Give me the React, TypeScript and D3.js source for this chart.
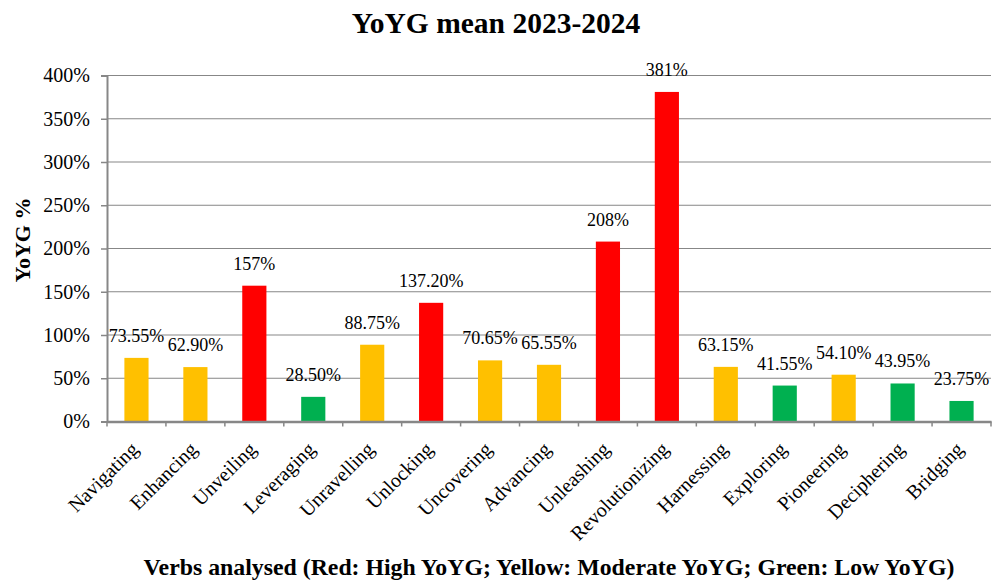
import React, { useRef, useEffect } from "react";
import * as d3 from "d3";

const verbs = [
    "Navigating", "Enhancing", "Unveiling", "Leveraging", "Unravelling",
    "Unlocking", "Uncovering", "Advancing", "Unleashing", "Revolutionizing",
    "Harnessing", "Exploring", "Pioneering", "Deciphering", "Bridging",
];
const yoyg = [73.55, 62.9, 157, 28.5, 88.75, 137.2, 70.65, 65.55, 208, 381, 63.15, 41.55, 54.1, 43.95, 23.75];
const valueLabels = [
    "73.55%", "62.90%", "157%", "28.50%", "88.75%", "137.20%", "70.65%", "65.55%",
    "208%", "381%", "63.15%", "41.55%", "54.10%", "43.95%", "23.75%",
];
// H = high, M = moderate, L = low
const level = ["M", "M", "H", "L", "M", "H", "M", "M", "H", "H", "M", "L", "M", "L", "L"];
const yTicks = [0, 50, 100, 150, 200, 250, 300, 350, 400];

const levelColor: Record<string, string> = { H: "#FF0000", M: "#FFC000", L: "#00B050" };
const font = "Liberation Serif, Times New Roman, serif";

export default function App() {
    const ref = useRef<SVGSVGElement | null>(null);

    useEffect(() => {
        const width = 992;
        const height = 582;
        const m = { top: 75.5, right: 1, bottom: 160.5, left: 107 };

        d3.select(ref.current).selectAll("*").remove();
        const svg = d3.select(ref.current)
            .attr("width", width)
            .attr("height", height)
            .attr("font-family", font);

        const x = d3.scaleBand<string>()
            .domain(verbs)
            .range([m.left, width - m.right])
            .paddingInner(0)
            .paddingOuter(0);
        const y = d3.scaleLinear().domain([0, 400]).range([height - m.bottom, m.top]);
        const barW = x.bandwidth() * 0.41;

        // gridlines
        svg.append("g")
            .selectAll("line")
            .data(yTicks.filter((t) => t > 0))
            .enter()
            .append("line")
            .attr("x1", m.left)
            .attr("x2", width - m.right)
            .attr("y1", (d) => y(d))
            .attr("y2", (d) => y(d))
            .attr("stroke", "#878787")
            .attr("stroke-width", 1);

        // bars
        svg.append("g")
            .selectAll("rect")
            .data(yoyg)
            .enter()
            .append("rect")
            .attr("x", (_, i) => x(verbs[i])! + (x.bandwidth() - barW) / 2)
            .attr("y", (d) => y(d))
            .attr("width", barW)
            .attr("height", (d) => y(0) - y(d))
            .attr("fill", (_, i) => levelColor[level[i]]);

        // value labels
        svg.append("g")
            .selectAll("text")
            .data(yoyg)
            .enter()
            .append("text")
            .attr("x", (_, i) => x(verbs[i])! + x.bandwidth() / 2)
            .attr("y", (d) => y(d) - 16)
            .attr("text-anchor", "middle")
            .attr("font-family", font)
            .attr("font-size", 18)
            .attr("fill", "#000")
            .text((_, i) => valueLabels[i]);

        // y axis
        const yAxis = svg.append("g")
            .attr("transform", `translate(${m.left},0)`)
            .call(d3.axisLeft(y).tickValues(yTicks).tickSize(6).tickFormat((d) => `${d}%`))
            .attr("font-family", font);
        yAxis.select(".domain").attr("stroke", "#878787").attr("stroke-width", 2);
        yAxis.selectAll(".tick line").attr("stroke", "#878787").attr("stroke-width", 1.5);
        yAxis.selectAll(".tick text")
            .attr("font-size", 20)
            .attr("font-family", font)
            .attr("fill", "#000")
            .attr("x", -17);

        // x axis
        const xAxis = svg.append("g")
            .attr("transform", `translate(0,${y(0)})`)
            .call(d3.axisBottom(x).tickSize(0).tickSizeOuter(0))
            .attr("font-family", font);
        xAxis.select(".domain").attr("stroke", "#878787").attr("stroke-width", 2.5);
        xAxis.selectAll(".tick line").remove();
        xAxis.selectAll(".tick text")
            .attr("font-size", 20)
            .attr("font-family", font)
            .attr("fill", "#000")
            .attr("text-anchor", "end")
            .attr("dy", 0)
            .attr("y", 0)
            .attr("transform", "translate(3,29) rotate(-45)");

        // tick marks between categories
        xAxis.append("g")
            .selectAll("line")
            .data(d3.range(verbs.length + 1))
            .enter()
            .append("line")
            .attr("x1", (i) => m.left + i * x.step())
            .attr("x2", (i) => m.left + i * x.step())
            .attr("y1", 0)
            .attr("y2", 5)
            .attr("stroke", "#878787")
            .attr("stroke-width", 1.5);

        // titles
        svg.append("text")
            .attr("x", 496)
            .attr("y", 33)
            .attr("text-anchor", "middle")
            .attr("font-size", 29.5)
            .attr("font-weight", "bold")
            .text("YoYG mean 2023-2024");

        svg.append("text")
            .attr("transform", `translate(30,240) rotate(-90)`)
            .attr("text-anchor", "middle")
            .attr("font-size", 22)
            .attr("font-weight", "bold")
            .text("YoYG %");

        svg.append("text")
            .attr("x", 549)
            .attr("y", 575)
            .attr("text-anchor", "middle")
            .attr("font-size", 23.8)
            .attr("font-weight", "bold")
            .text("Verbs analysed (Red: High YoYG; Yellow: Moderate YoYG; Green: Low YoYG)");
    }, []);

    return (
        <svg ref={ref} style={{ position: "absolute", left: 0, top: 0 }}></svg>
    );
}
